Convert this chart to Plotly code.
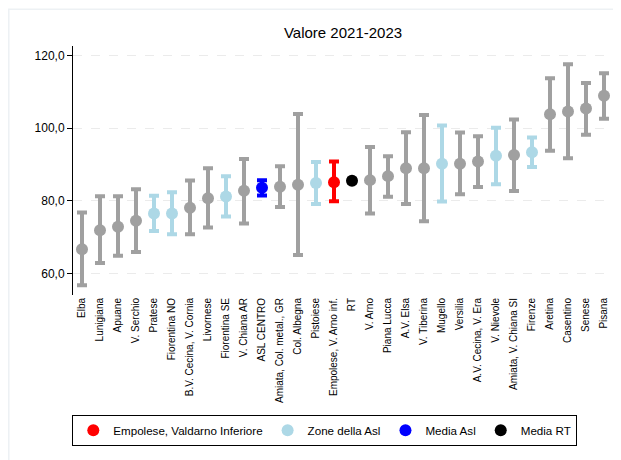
import plotly.graph_objects as go

categories = ["Elba", "Lunigiana", "Apuane", "V. Serchio", "Pratese", "Fiorentina NO",
              "B.V. Cecina, V. Cornia", "Livornese", "Fiorentina SE", "V. Chiana AR",
              "ASL CENTRO", "Amiata, Col. metal., GR", "Col. Albegna", "Pistoiese",
              "Empolese, V. Arno inf.", "RT", "V. Arno", "Piana Lucca", "A.V. Elsa",
              "V. Tiberina", "Mugello", "Versilia", "A.V. Cecina, V. Era", "V. Nievole",
              "Amiata, V. Chiana SI", "Firenze", "Aretina", "Casentino", "Senese", "Pisana"]
values = [66.7, 71.9, 72.9, 74.5, 76.5, 76.5, 78.1, 80.7, 81.2, 82.8,
          83.6, 83.9, 84.4, 84.9, 85.1, 85.5, 85.7, 86.8, 89.0, 89.0,
          90.2, 90.2, 90.8, 92.4, 92.6, 93.4, 103.8, 104.6, 105.4, 108.9]
upper = [76.8, 81.3, 81.3, 83.2, 81.4, 82.4, 85.6, 89.0, 86.8, 91.5,
         85.7, 89.5, 103.9, 90.7, 90.8, 85.9, 94.8, 92.3, 98.9, 103.6,
         100.7, 98.8, 97.8, 100.1, 102.4, 97.4, 113.7, 117.6, 112.4, 115.1]
lower = [56.8, 62.9, 64.9, 65.9, 71.7, 70.8, 70.8, 72.7, 75.7, 73.8,
         81.5, 78.3, 65.1, 79.1, 79.9, 85.1, 76.5, 81.1, 79.1, 74.4,
         79.8, 81.8, 83.8, 84.6, 82.7, 89.3, 93.8, 91.7, 98.2, 102.6]
groups = ["z", "z", "z", "z", "asl", "asl", "z", "z", "asl", "z",
          "mediaasl", "z", "z", "asl", "sel", "rt", "z", "z", "z", "z",
          "asl", "z", "z", "asl", "z", "asl", "z", "z", "z", "z"]

styles = [
    ("sel", "Empolese, Valdarno Inferiore", "#ff0000", True),
    ("asl", "Zone della Asl", "#add8e6", True),
    ("mediaasl", "Media Asl", "#0000ff", True),
    ("rt", "Media RT", "#000000", True),
    ("z", "Altre zone", "#a0a0a0", False),
]

fig = go.Figure()
for key, name, color, show in styles:
    idx = [i for i, g in enumerate(groups) if g == key]
    xs = [categories[i] for i in idx]
    ys = [values[i] for i in idx]
    up = [upper[i] - values[i] for i in idx]
    lo = [values[i] - lower[i] for i in idx]
    fig.add_trace(go.Scatter(
        x=xs, y=ys, mode="markers", name=name, showlegend=show,
        marker=dict(color=color, size=12, symbol="circle"),
        error_y=dict(type="data", symmetric=False, array=up, arrayminus=lo,
                     color=color, thickness=4, width=5),
    ))

fig.update_layout(
    width=621, height=460,
    paper_bgcolor="white", plot_bgcolor="white",
    separators=",.",
    font=dict(family="Liberation Sans, Arial", color="black", size=12),
    title=dict(text="Valore 2021-2023", x=0.5395, xanchor="center",
               y=0.9457, yanchor="middle", font=dict(size=15)),
    margin=dict(l=64.7, r=16.3, t=37.7, b=173, autoexpand=False),
    showlegend=True,
    legend=dict(orientation="h", x=0.4663, xanchor="center", y=-0.4813, yanchor="top",
                bordercolor="black", borderwidth=1, bgcolor="white",
                font=dict(size=11.6), traceorder="normal"),
    xaxis=dict(type="category", categoryorder="array", categoryarray=categories,
               range=[-0.5, len(categories) - 0.5], showgrid=False, showline=False,
               ticks="", tickangle=-90, tickfont=dict(size=10)),
    yaxis=dict(range=[54.1, 122.6], tickvals=[60, 80, 100, 120], tickformat=".1f",
               showline=True, linecolor="black", linewidth=1,
               ticks="outside", ticklen=5, tickcolor="black",
               showgrid=True, gridcolor="#ebebeb", griddash="dash", zeroline=False,
               tickfont=dict(size=12)),
    shapes=[dict(type="rect", xref="paper", yref="paper",
                 x0=-0.1189, x1=1.2, y0=-1.0, y1=1.1472,
                 line=dict(color="#edf1f4", width=1.5), fillcolor="rgba(0,0,0,0)",
                 layer="below")],
)

fig.write_html("out.html")
